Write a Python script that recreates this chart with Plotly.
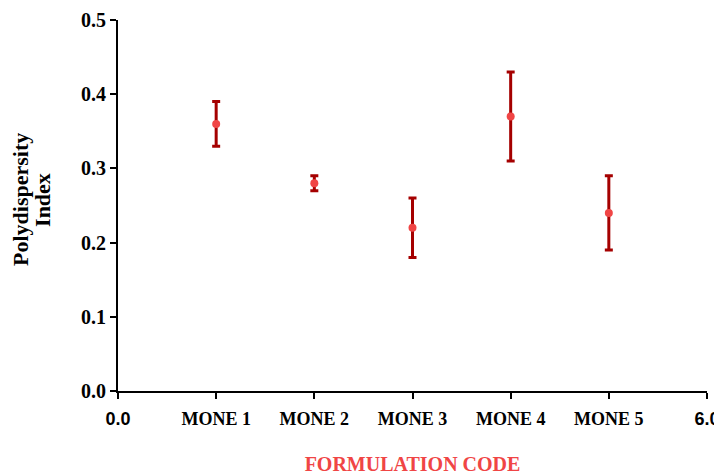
import plotly.graph_objects as go

codes = ["MONE 1", "MONE 2", "MONE 3", "MONE 4", "MONE 5"]
positions = [1, 2, 3, 4, 5]
pdi = [0.36, 0.28, 0.22, 0.37, 0.24]
pdi_err = [0.03, 0.01, 0.04, 0.06, 0.05]

x_tickvals = [0, 1, 2, 3, 4, 5, 6]
x_ticktext = ['<span style="font-family:Liberation Sans">0.0</span>'] + codes + ['<span style="font-family:Liberation Sans">6.0</span>']
y_tickvals = [0.0, 0.1, 0.2, 0.3, 0.4, 0.5]
y_ticktext = ["0.0", "0.1", "0.2", "0.3", "0.4", "0.5"]
y_title_lines = ["Polydispersity", "Index"]

fig = go.Figure()
fig.add_trace(go.Scatter(
    x=positions, y=pdi, mode="markers",
    marker=dict(color="#f04545", size=8),
    error_y=dict(type="data", array=pdi_err, visible=True,
                 color="#a50000", thickness=3, width=4),
    showlegend=False,
))

serif = "Liberation Serif"
# the page body has an 8px margin, so the figure is sized to fit inside 722x475
fig.update_layout(
    width=714, height=467,
    margin=dict(l=110, r=15, t=12, b=84),
    paper_bgcolor="white", plot_bgcolor="white",
    font=dict(family=serif, color="black"),
    xaxis=dict(
        range=[0, 6], tickvals=x_tickvals, ticktext=x_ticktext,
        automargin=False,
        showgrid=False, zeroline=False, showline=True, linecolor="black", linewidth=2,
        ticks="outside", ticklen=6, tickwidth=2, tickcolor="black",
        tickfont=dict(family=serif, size=18, color="black", weight="bold"),
        ticklabelstandoff=4,
        title=dict(text="FORMULATION CODE", standoff=37,
                   font=dict(family=serif, size=20, color="#f04545", weight="bold")),
    ),
    yaxis=dict(
        range=[0, 0.5], tickvals=y_tickvals, ticktext=y_ticktext,
        automargin=False,
        showgrid=False, zeroline=False, showline=True, linecolor="black", linewidth=2,
        ticks="outside", ticklen=6, tickwidth=2, tickcolor="black",
        tickfont=dict(family=serif, size=20, color="black", weight="bold"),
    ),
)

for line, shift in zip(y_title_lines, [-97, -75]):
    fig.add_annotation(
        text=line, xref="paper", yref="paper", x=0, y=0.515,
        xanchor="center", yanchor="middle", xshift=shift,
        textangle=-90, showarrow=False,
        font=dict(family=serif, size=22, color="black", weight="bold"),
    )

fig.write_html("out.html")
